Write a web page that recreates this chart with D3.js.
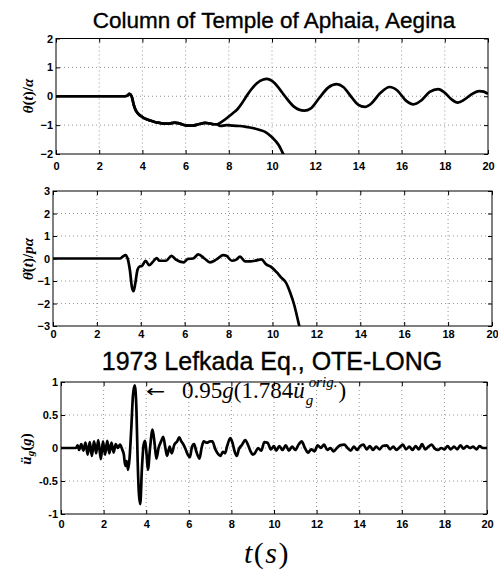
<!DOCTYPE html>
<html>
<head>
<meta charset="utf-8">
<script src="https://cdn.jsdelivr.net/npm/d3@7/dist/d3.min.js"></script>
<style>
  body { margin: 0; background: #fff; }
  svg { display: block; }
  .tick text { font-family: "Liberation Sans", Arial, sans-serif; font-weight: bold; font-size: 11px; fill: #000; }
  .tick line { stroke: #000; }
  .domain { stroke: none; }
</style>
</head>
<body>
<script>
// ---- data -------------------------------------------------------------
const timeTicks = [0, 2, 4, 6, 8, 10, 12, 14, 16, 18, 20];
const rotTicks = [-2, -1, 0, 1, 2];
const velTicks = [-3, -2, -1, 0, 1, 2, 3];
const accTicks = [-1, -0.5, 0, 0.5, 1];

// normalised rotation θ(t)/α, common start of both responses
const rotStartT = [0, 3.2, 3.3, 3.4, 3.5, 3.6, 3.7, 3.8, 4.0, 4.2, 4.4, 4.6, 4.8, 5.0, 5.2, 5.5, 5.7, 6.0, 6.3, 6.6, 6.9, 7.1, 7.3, 7.45];
const rotStartV = [0, 0, 0.02, 0.08, 0.0, -0.3, -0.5, -0.6, -0.72, -0.8, -0.85, -0.9, -0.92, -0.95, -0.95, -0.91, -0.94, -1.01, -1.02, -0.97, -0.92, -0.94, -0.97, -0.97];
// response that keeps rocking
const rockT = [7.7, 8.0, 8.2, 8.4, 8.6, 8.8, 9.0, 9.3, 9.6, 9.75, 10.0, 10.3, 10.6, 11.0, 11.5, 11.8, 12.2, 12.6, 13.0, 13.3, 13.7, 14.0, 14.3, 14.6, 15.0, 15.45, 15.8, 16.2, 16.55, 16.9, 17.3, 17.7, 18.0, 18.3, 18.6, 18.9, 19.2, 19.6, 19.8, 20];
const rockV = [-0.87, -0.7, -0.58, -0.45, -0.25, -0.02, 0.2, 0.45, 0.58, 0.6, 0.53, 0.3, 0.0, -0.35, -0.5, -0.42, -0.05, 0.3, 0.42, 0.32, -0.05, -0.3, -0.37, -0.25, 0.1, 0.32, 0.2, -0.15, -0.28, -0.15, 0.15, 0.25, 0.12, -0.1, -0.22, -0.12, 0.05, 0.18, 0.16, 0.08];
// response that overturns
const overT = [7.6, 7.9, 8.2, 8.5, 8.8, 9.1, 9.4, 9.7, 10.0, 10.3, 10.55, 10.7];
const overV = [-1.03, -1.0, -1.02, -1.03, -1.06, -1.1, -1.16, -1.24, -1.42, -1.68, -2.05, -2.3];

// normalised angular velocity
const velT = [0, 3.05, 3.2, 3.3, 3.4, 3.5, 3.6, 3.67, 3.75, 3.85, 3.95, 4.05, 4.22, 4.38, 4.55, 4.72, 4.85, 5.15, 5.4, 5.6, 5.95, 6.15, 6.38, 6.62, 6.9, 7.15, 7.45, 7.75, 7.9, 8.15, 8.35, 8.52, 8.75, 9.0, 9.2, 9.5, 9.7, 9.95, 10.2, 10.4, 10.6, 10.8, 11.0, 11.1, 11.22, 11.3];
const velV = [0, 0, 0.1, 0.15, 0.0, -0.5, -1.3, -1.45, -1.1, -0.5, -0.35, -0.33, -0.1, -0.3, -0.15, 0.02, -0.1, -0.1, 0.12, -0.05, -0.17, -0.02, 0.0, 0.18, 0.0, -0.17, -0.04, 0.15, 0.12, -0.1, -0.05, 0.08, -0.13, -0.13, -0.1, -0.04, -0.25, -0.38, -0.62, -0.85, -1.05, -1.5, -2.1, -2.5, -3.0, -3.3];

// ground acceleration (g)
const accT = [0, 0.7, 0.78, 0.85, 0.95, 1.05, 1.15, 1.25, 1.35, 1.45, 1.55, 1.65, 1.75, 1.87, 1.97, 2.07, 2.17, 2.27, 2.37, 2.47, 2.57, 2.67, 2.77, 2.87, 2.95, 3.02, 3.08, 3.15, 3.22, 3.3, 3.38, 3.46, 3.54, 3.6, 3.66, 3.72, 3.8, 3.88, 3.95, 4.02, 4.08, 4.18, 4.3, 4.4, 4.48, 4.58, 4.7, 4.8, 4.9, 4.98, 5.1, 5.2, 5.32, 5.45, 5.55, 5.65, 5.75, 5.85, 5.95, 6.05, 6.15, 6.25, 6.35, 6.5, 6.6, 6.7, 6.85, 7.0, 7.1, 7.25, 7.35, 7.48, 7.6, 7.7, 7.8, 7.95, 8.05, 8.15, 8.25, 8.35, 8.5, 8.65, 8.8, 8.9, 9.0, 9.1, 9.25, 9.4, 9.55, 9.7, 9.85, 10.0, 10.1, 10.25, 10.4, 10.55, 10.7, 10.85, 11.0, 11.15, 11.3, 11.45, 11.6, 11.75, 11.9, 12.05, 12.2, 12.35, 12.5, 12.65, 12.8, 12.95, 13.1, 13.3, 13.45, 13.6, 13.75, 13.9, 14.05, 14.2, 14.35, 14.5, 14.65, 14.8, 14.95, 15.1, 15.3, 15.45, 15.6, 15.75, 15.9, 16.05, 16.2, 16.35, 16.5, 16.65, 16.8, 16.95, 17.1, 17.25, 17.4, 17.55, 17.7, 17.85, 18.0, 18.15, 18.3, 18.45, 18.6, 18.75, 18.9, 19.05, 19.2, 19.35, 19.5, 19.65, 19.8, 20];
const accV = [0, 0, 0.04, -0.03, 0.06, -0.04, 0.08, -0.1, 0.09, -0.12, 0.1, -0.08, 0.12, -0.17, 0.1, -0.1, 0.11, -0.08, 0.08, -0.07, 0.06, 0.0, 0.05, -0.02, -0.1, -0.27, -0.2, -0.33, -0.15, 0.3, 0.8, 0.95, 0.6, -0.2, -0.7, -0.85, -0.3, 0.05, 0.11, -0.1, -0.33, 0.0, 0.28, 0.05, -0.16, 0.0, 0.1, 0.17, 0.0, -0.12, 0.02, -0.08, 0.05, 0.1, 0.16, 0.1, 0.05, -0.02, -0.1, -0.14, 0.02, 0.06, -0.05, -0.16, 0.0, 0.1, 0.08, 0.1, 0.1, -0.02, -0.08, -0.12, -0.06, -0.08, 0.03, 0.15, 0.08, -0.05, -0.12, -0.02, 0.05, 0.12, 0.03, -0.05, -0.1, -0.08, 0.0, -0.04, 0.09, 0.08, -0.02, 0.03, -0.04, 0.03, -0.03, 0.04, -0.04, 0.02, -0.03, 0.05, 0.1, 0.0, -0.07, -0.02, -0.05, 0.04, 0.0, 0.05, -0.03, 0.0, -0.05, 0.0, 0.04, 0.05, 0.0, -0.04, 0.02, -0.03, 0.03, 0.05, -0.02, 0.03, -0.03, 0.02, -0.02, 0.03, 0.04, -0.02, 0.02, -0.03, 0.01, 0.05, -0.02, 0.02, -0.03, 0.03, -0.02, 0.06, -0.02, 0.02, 0.05, -0.01, -0.03, 0.0, -0.02, 0.03, -0.02, 0.02, -0.02, 0.04, -0.01, 0.03, 0.0, 0.02, -0.02, 0.03, 0.0, 0.0];

const peakAcc = 0.95;

// ---- drawing ----------------------------------------------------------
const W = 498, H = 571;
const svg = d3.select("body").append("svg").attr("width", W).attr("height", H);
svg.append("rect").attr("width", W).attr("height", H).attr("fill", "#fff");

const zip = (ts, vs) => ts.map((t, i) => [t, vs[i]]);

function panel(id, box, yDomain, yTicks, yFmt, xPad, series) {
  const x = d3.scaleLinear().domain([0, 20]).range([box.left, box.right]);
  const y = d3.scaleLinear().domain(yDomain).range([box.bottom, box.top]);
  const g = svg.append("g");

  // dotted grid
  const grid = g.append("g").attr("stroke", "#7a7a7a").attr("stroke-width", 0.8)
    .attr("stroke-dasharray", "1,3").attr("fill", "none");
  grid.selectAll(".gx").data(timeTicks.filter(t => t > 0 && t < 20)).join("line")
    .attr("x1", d => x(d)).attr("x2", d => x(d)).attr("y1", box.top).attr("y2", box.bottom);
  grid.selectAll(".gy").data(yTicks.filter(v => v > yDomain[0] && v < yDomain[1])).join("line")
    .attr("x1", box.left).attr("x2", box.right).attr("y1", d => y(d)).attr("y2", d => y(d));

  // data
  const clipId = "clip-" + id;
  svg.append("clipPath").attr("id", clipId).append("rect")
    .attr("x", box.left).attr("y", box.top)
    .attr("width", box.right - box.left).attr("height", box.bottom - box.top);
  const line = d3.line().x(d => x(d[0])).y(d => y(d[1])).curve(d3.curveMonotoneX);
  g.append("g").attr("clip-path", `url(#${clipId})`)
    .selectAll("path").data(series).join("path")
    .attr("d", line).attr("fill", "none").attr("stroke", "#000")
    .attr("stroke-width", 2.7).attr("stroke-linejoin", "round");

  // axes with inward ticks on all four sides
  g.append("g").attr("transform", `translate(0,${box.bottom})`)
    .call(d3.axisBottom(x).tickValues(timeTicks).tickFormat(d3.format("d"))
      .tickSizeInner(-4).tickSizeOuter(0).tickPadding(xPad));
  g.append("g").attr("transform", `translate(0,${box.top})`)
    .call(d3.axisTop(x).tickValues(timeTicks).tickFormat("")
      .tickSizeInner(-4).tickSizeOuter(0));
  g.append("g").attr("transform", `translate(${box.left},0)`)
    .call(d3.axisLeft(y).tickValues(yTicks).tickFormat(yFmt)
      .tickSizeInner(-4).tickSizeOuter(0).tickPadding(3));
  g.append("g").attr("transform", `translate(${box.right},0)`)
    .call(d3.axisRight(y).tickValues(yTicks).tickFormat("")
      .tickSizeInner(-4).tickSizeOuter(0));

  g.append("rect").attr("x", box.left).attr("y", box.top)
    .attr("width", box.right - box.left).attr("height", box.bottom - box.top)
    .attr("fill", "none").attr("stroke", "#000").attr("stroke-width", 1);
  return { x, y };
}

const intFmt = d3.format("d");
const accFmt = d => (d === 0 ? "0" : String(d));

panel("rot", { left: 56, right: 488, top: 38.5, bottom: 154 }, [-2, 2], rotTicks, intFmt, 8, [
  zip(rotStartT.concat(rockT), rotStartV.concat(rockV)),
  zip(rotStartT.concat(overT), rotStartV.concat(overV))
]);
panel("vel", { left: 53, right: 492, top: 191, bottom: 326 }, [-3, 3], velTicks, intFmt, 4, [
  zip(velT, velV)
]);
panel("acc", { left: 61, right: 487, top: 382, bottom: 514 }, [-1, 1], accTicks, accFmt, 6, [
  zip(accT, accV)
]);

// titles
const sans = '"Liberation Sans", Arial, sans-serif';
const serif = '"Liberation Serif", "Times New Roman", serif';
svg.append("text").attr("x", 274).attr("y", 27.5).attr("text-anchor", "middle")
  .attr("font-family", sans).attr("font-size", 22.5)
  .attr("stroke", "#000").attr("stroke-width", 0.35)
  .text("Column of Temple of Aphaia, Aegina");
svg.append("text").attr("x", 272).attr("y", 370).attr("text-anchor", "middle")
  .attr("font-family", sans).attr("font-size", 25)
  .attr("stroke", "#000").attr("stroke-width", 0.35)
  .text("1973 Lefkada Eq., OTE-LONG");

// y-axis labels
function yLabel(cx, cy, parts) {
  const t = svg.append("text").attr("transform", `translate(${cx},${cy}) rotate(-90)`)
    .attr("text-anchor", "middle").attr("dominant-baseline", "central")
    .attr("font-family", serif).attr("font-weight", "bold").attr("font-size", 15);
  parts.forEach(p => {
    const s = t.append("tspan").text(p.s).attr("font-style", p.i ? "italic" : "normal");
    if (p.dy) s.attr("dy", p.dy);
    if (p.fs) s.attr("font-size", p.fs);
  });
}
yLabel(28, 96, [{ s: "θ", i: 1 }, { s: "(" }, { s: "t", i: 1 }, { s: ")/" }, { s: "α", i: 1 }]);
yLabel(28, 259, [{ s: "θ\u0307", i: 1 }, { s: "(" }, { s: "t", i: 1 }, { s: ")/" }, { s: "pα", i: 1 }]);
yLabel(26, 449, [{ s: "ü", i: 1 }, { s: "g", i: 1, dy: 4, fs: 11 }, { s: "(", dy: -4 }, { s: "g", i: 1 }, { s: ")" }]);

// x-axis label
const xl = svg.append("text").attr("x", 267).attr("y", 563).attr("text-anchor", "middle")
  .attr("font-family", serif).attr("font-size", 30).attr("letter-spacing", 1.5);
xl.append("tspan").attr("font-style", "italic").text("t");
xl.append("tspan").text("(");
xl.append("tspan").attr("font-style", "italic").text("s");
xl.append("tspan").text(")");

// peak annotation next to the largest pulse
const annY = 398;
svg.append("text").attr("x", 146).attr("y", annY - 1)
  .attr("font-family", '"DejaVu Sans", sans-serif').attr("font-size", 17)
  .attr("transform", "translate(146,0) scale(1.35,1) translate(-146,0)")
  .text("\u2190");
const annX = 182;
const ann = svg.append("text").attr("x", annX).attr("y", annY)
  .attr("font-family", serif).attr("font-size", 23);
ann.append("tspan").text(peakAcc.toFixed(2));
ann.append("tspan").attr("font-style", "italic").text("g");
ann.append("tspan").text("(1.784");
ann.append("tspan").attr("font-style", "italic").text("ü");
const annEnd = annX + ann.node().getComputedTextLength();
svg.append("text").attr("x", annEnd + 1).attr("y", annY + 7)
  .attr("font-family", serif).attr("font-style", "italic").attr("font-size", 15).text("g");
const sup = svg.append("text").attr("x", annEnd + 4).attr("y", annY - 11)
  .attr("font-family", serif).attr("font-style", "italic").attr("font-size", 15).text("orig.");
const supEnd = annEnd + 4 + sup.node().getComputedTextLength();
svg.append("text").attr("x", supEnd + 1).attr("y", annY)
  .attr("font-family", serif).attr("font-size", 23).text(")");
</script>
</body>
</html>
